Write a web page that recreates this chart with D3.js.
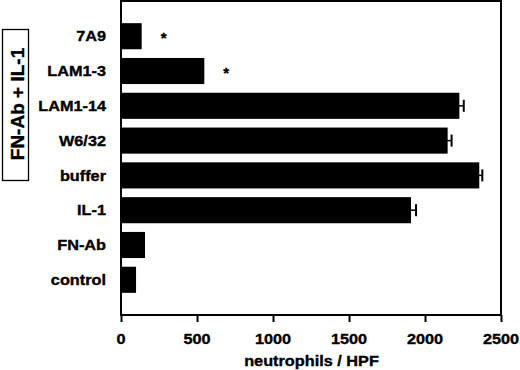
<!DOCTYPE html>
<html><head><meta charset="utf-8">
<script src="https://cdn.jsdelivr.net/npm/d3@7"></script>
<style>
body{margin:0;background:#fff;}
text{font-family:"Liberation Sans",Arial,Helvetica,sans-serif;font-weight:bold;fill:#000;stroke:#000;stroke-width:0.35px;}
</style></head>
<body><svg id="c" width="520" height="370"></svg>
<script>
const categories = ["7A9","LAM1-3","LAM1-14","W6/32","buffer","IL-1","FN-Ab","control"];
const values = [136, 548, 2226, 2149, 2357, 1908, 158, 99];
const errors = [0, 0, 29, 26, 20, 33, 0, 0];
const significant = [true, true, false, false, false, false, false, false];
const xTicks = [0, 500, 1000, 1500, 2000, 2500];
const groupLabel = "FN-Ab + IL-1";
const xTitle = "neutrophils / HPF";

const svg = d3.select("#c");
const L = 121, R = 501, T = 1, B = 315;
const SX = 1.13; // horizontal stretch of lettering
const FS = 14.4;
const x = d3.scaleLinear().domain([0, 2500]).range([L, R]);
const y = d3.scaleBand().domain(categories).range([T, B]).paddingInner(0.25).paddingOuter(0.637);

svg.append("rect").attr("x", L).attr("y", T).attr("width", R - L).attr("height", B - T)
  .attr("fill", "none").attr("stroke", "#000").attr("stroke-width", 2);

const data = categories.map((c, i) => ({c, v: values[i], e: errors[i], s: significant[i]}));

svg.selectAll("rect.bar").data(data).join("rect").attr("class", "bar")
  .attr("x", x(0)).attr("y", d => y(d.c)).attr("width", d => x(d.v) - x(0))
  .attr("height", y.bandwidth()).attr("fill", "#000");

const eb = svg.selectAll("g.err").data(data.filter(d => d.e > 0)).join("g").attr("class", "err");
eb.append("line").attr("x1", d => x(d.v) - 2).attr("x2", d => x(d.v + d.e))
  .attr("y1", d => y(d.c) + y.bandwidth() / 2).attr("y2", d => y(d.c) + y.bandwidth() / 2)
  .attr("stroke", "#000").attr("stroke-width", 1.5);
eb.append("line").attr("x1", d => x(d.v + d.e)).attr("x2", d => x(d.v + d.e))
  .attr("y1", d => y(d.c) + y.bandwidth() / 2 - 6).attr("y2", d => y(d.c) + y.bandwidth() / 2 + 6)
  .attr("stroke", "#000").attr("stroke-width", 2);

svg.selectAll("text.star").data(data.filter(d => d.s)).join("text").attr("class", "star")
  .attr("x", d => x(d.v) + 22).attr("y", d => y(d.c) + y.bandwidth() / 2 + 7)
  .attr("text-anchor", "middle").attr("font-size", 15).text("*");

// category labels
svg.selectAll("text.cat").data(categories).join("text").attr("class", "cat")
  .attr("transform", d => `translate(106,${y(d) + y.bandwidth() / 2}) scale(${SX},1)`)
  .attr("dy", "0.36em").attr("text-anchor", "end").attr("font-size", FS).text(d => d);

// x axis ticks
const ax = svg.append("g").attr("transform", `translate(0,${B})`)
  .call(d3.axisBottom(x).tickValues(xTicks).tickSize(7).tickFormat(""));
ax.select(".domain").remove();
ax.selectAll("line").attr("stroke", "#000").attr("stroke-width", 2);
svg.selectAll("text.tick").data(xTicks).join("text").attr("class", "tick")
  .attr("transform", d => `translate(${x(d)},344) scale(${SX},1)`)
  .attr("text-anchor", "middle").attr("font-size", FS).text(d3.format("d"));

svg.append("text").attr("transform", `translate(${(L + R) / 2 + 0.5},366) scale(${SX},1)`)
  .attr("text-anchor", "middle").attr("font-size", FS).text(xTitle);

// group label box
svg.append("rect").attr("x", 2.5).attr("y", 29.5).attr("width", 26).attr("height", 151)
  .attr("fill", "none").attr("stroke", "#000").attr("stroke-width", 1.3);
svg.append("text").attr("transform", "translate(24,104) rotate(-90)")
  .attr("text-anchor", "middle").attr("font-size", 19).text(groupLabel);
</script></body></html>
